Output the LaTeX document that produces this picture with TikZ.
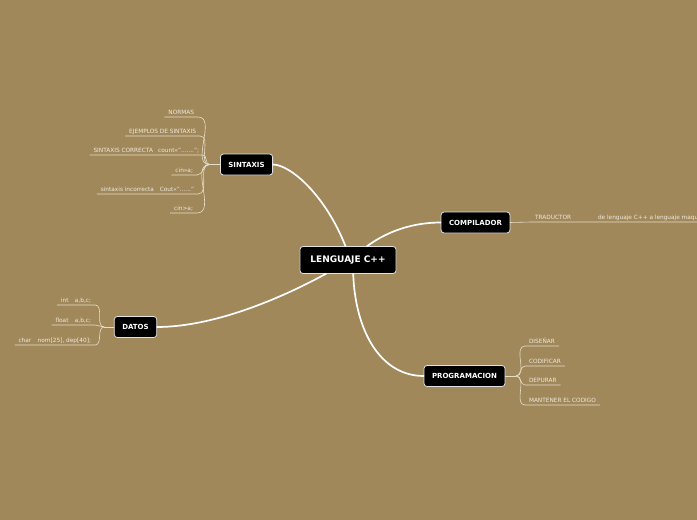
\documentclass[tikz,border=0pt]{standalone}
\usepackage{fontspec}
\setmainfont{DejaVu Sans}
\definecolor{bgbrown}{RGB}{160,136,91}
\definecolor{twigcol}{RGB}{232,222,200}
\definecolor{leaftext}{RGB}{240,234,222}
\definecolor{boxline}{RGB}{225,225,225}
\begin{document}
\begin{tikzpicture}[x=1pt,y=-1pt,inner sep=0pt,outer sep=0pt,
topic/.style={draw=boxline,fill=black,rounded corners=3pt,line width=0.8pt,text=white,inner xsep=8pt,minimum height=21pt,font=\bfseries\fontsize{7}{8}\selectfont},
mainblock/.style={topic,inner xsep=10.5pt,minimum height=27pt,font=\bfseries\fontsize{9}{10}\selectfont},
leaf/.style={inner xsep=4pt,inner ysep=1.5pt,text height=4pt,text depth=1.5pt,text=leaftext,font=\fontsize{5.8}{6.5}\selectfont},
trunk/.style={draw=white,line width=1.7pt},
twig/.style={draw=twigcol,line width=0.6pt}]
\fill[bgbrown] (0,0) rectangle (697,520);
\useasboundingbox (0,0) rectangle (697,520);
\draw (348,260) node[mainblock] (main) {LENGUAJE C++};
\draw (246.5,164.5) node[topic] (sint) {SINTAXIS};
\draw (475.5,222.5) node[topic] (comp) {COMPILADOR};
\draw (135.5,327) node[topic] (datos) {DATOS};
\draw (464.5,376) node[topic] (prog) {PROGRAMACION};
\draw[trunk] (main.100) .. controls +(-20,-51) and +(18,0) .. (sint.east);
\draw[trunk] (main.36) .. controls +(15,-11) and +(-35,0) .. (comp.west);
\draw[trunk] (main.212) .. controls +(-40,22) and +(60,0) .. (datos.east);
\draw[trunk] (main.-69) .. controls +(2,57) and +(-44,0) .. (prog.west);
% SINTAXIS
\draw (198,117) node[leaf,anchor=south east] (normas) {NORMAS};
\draw (200,136) node[leaf,anchor=south east] (ejemplos) {EJEMPLOS DE SINTAXIS};
\draw (203,155) node[leaf,anchor=south east] (correcta) {SINTAXIS CORRECTA\hspace{0.9em}count<<".......";};
\draw (197,175) node[leaf,anchor=south east] (cin1) {cin>>a;};
\draw (198,194) node[leaf,anchor=south east] (incorrecta) {sintaxis incorrecta\hspace{1em}Cout<<"......"};
\draw (197,213) node[leaf,anchor=south east] (cin2) {cin>a;};
\draw[twig] (sint.west) -- ++(-11,0) coordinate (sjun);
\foreach \n in {normas,ejemplos,correcta,cin1,incorrecta,cin2}
  \draw[twig] (sjun) to[out=180,in=0] (\n.south east) -- (\n.south west);
% COMPILADOR
\draw (531,222) node[leaf,anchor=south west] (trad) {TRADUCTOR};
\draw (594,222) node[leaf,anchor=south west] (maquina) {de lenguaje C++ a lenguaje maquina};
\draw[twig] (comp.east) -- (trad.south west) -- (trad.south east) -- (maquina.south west) -- (maquina.south east);
% DATOS
\draw (95,305) node[leaf,anchor=south east] (int) {int\hspace{1.1em}a,b,c;};
\draw (95,325) node[leaf,anchor=south east] (float) {float\hspace{1.1em}a,b,c;};
\draw (95,345) node[leaf,anchor=south east] (char) {char\hspace{1.1em}nom[25], dep[40];};
\draw[twig] (datos.west) -- ++(-10,0) coordinate (djun);
\foreach \n in {int,float,char}
  \draw[twig] (djun) to[out=180,in=0] (\n.south east) -- (\n.south west);
% PROGRAMACION
\draw (525,346) node[leaf,anchor=south west] (disenar) {DISEÑAR};
\draw (525,366) node[leaf,anchor=south west] (codificar) {CODIFICAR};
\draw (525,385) node[leaf,anchor=south west] (depurar) {DEPURAR};
\draw (525,405) node[leaf,anchor=south west] (mantener) {MANTENER EL CODIGO};
\draw[twig] (prog.east) -- ++(11,0) coordinate (pjun);
\foreach \n in {disenar,codificar,depurar,mantener}
  \draw[twig] (pjun) to[out=0,in=180] (\n.south west) -- (\n.south east);
\end{tikzpicture}
\end{document}
